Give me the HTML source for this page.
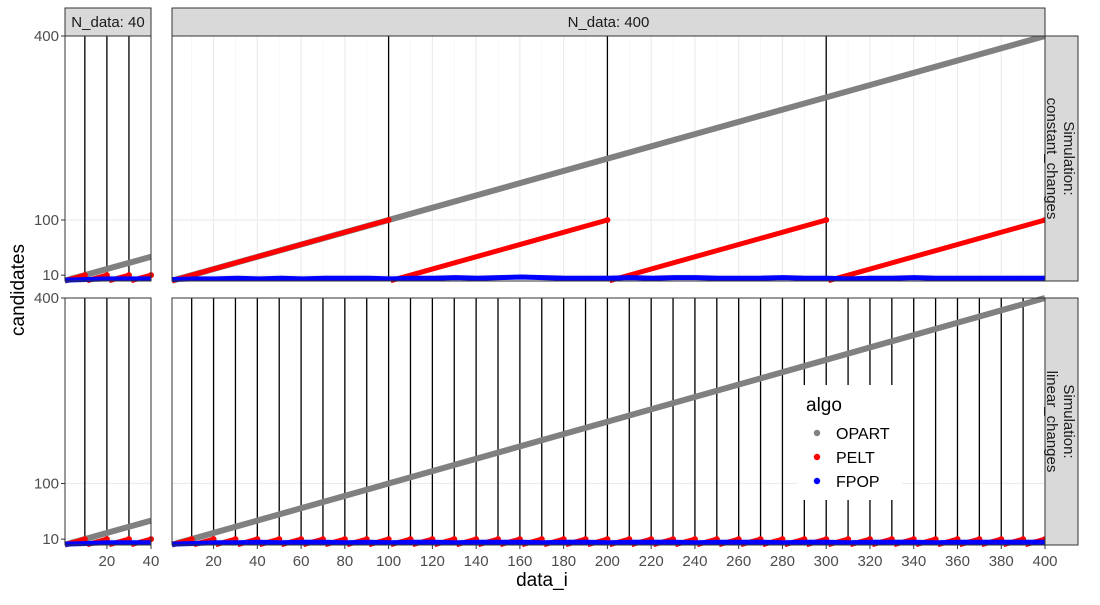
<!DOCTYPE html>
<html><head><meta charset="utf-8"><style>
body{margin:0;background:#fff;font-family:"Liberation Sans",sans-serif}
svg text{font-family:"Liberation Sans",sans-serif}
</style></head><body>
<svg id="c" width="1100" height="600" xmlns="http://www.w3.org/2000/svg"></svg>
<script>
const yTicks=[10,100,400];
const xTicksSmall=[20,40];
const xTicksBig=[20,40,60,80,100,120,140,160,180,200,220,240,260,280,300,320,340,360,380,400];
const nData=[40,400];
const simNames=["constant_changes","linear_changes"];
const cpConstSmall=[10,20,30];
const cpConstBig=[100,200,300];
const cpLinSmall=[10,20,30];
const cpLinBig=[10,20,30,40,50,60,70,80,90,100,110,120,130,140,150,160,170,180,190,200,210,220,230,240,250,260,270,280,290,300,310,320,330,340,350,360,370,380,390];
const opartStart=[1,1];
const opartEnd=[40,400];
const peltPeakConst=[100,100,100,100];
const peltPeakConstSmall=[10,10,10,10];
const peltPeakLin=10;
const fpopConstBig=[3,4,4,5,4,5,4,5,5,5,4,5,5,6,5,6,7,6,5,5,5,6,5,6,6,5,5,5,6,5,5,4,5,5,6,5,5,5,5,5,5];
const fpopLinBig=[2,3,4,4,5,4,5,5,4,5,4,5,5,4,5,5,5,4,5,5,4,5,5,5,4,5,5,5,4,5,5,4,5,5,5,4,5,5,5,5,5];
const fpopSmall=[2,3,4,4,4];

const S=document.getElementById('c');
const NS='http://www.w3.org/2000/svg';
function el(t,a,p){const e=document.createElementNS(NS,t);for(const k in a)e.setAttribute(k,a[k]);(p||S).appendChild(e);return e;}

const cols=[{x0:65,x1:151,lo:1,hi:40,ticks:xTicksSmall},{x0:172,x1:1045,lo:1,hi:400,ticks:xTicksBig}];
const rows=[{y0:36,y1:281},{y0:298,y1:545}];
const yLo=0.5,yHi=400;

for(let r=0;r<2;r++){for(let c=0;c<2;c++){
  const C=cols[c],R=rows[r];
  const X=v=>C.x0+(v-C.lo)/(C.hi-C.lo)*(C.x1-C.x0);
  const Y=v=>R.y1-(v-yLo)/(yHi-yLo)*(R.y1-R.y0);
  const g=el('g',{});
  
  
  el('rect',{x:C.x0,y:R.y0,width:C.x1-C.x0,height:R.y1-R.y0,fill:'#fff'},g);
  for(let v=10;v<=C.hi;v+=10){el('line',{x1:X(v),x2:X(v),y1:R.y0,y2:R.y1,stroke:v%20?'#f4f4f4':'#ebebeb','stroke-width':v%20?0.6:1.1},g);}
  for(const v of [10,100,400]){el('line',{x1:C.x0,x2:C.x1,y1:Y(v),y2:Y(v),stroke:'#ebebeb','stroke-width':1.1},g);}
  const cps=r==0?(c==0?cpConstSmall:cpConstBig):(c==0?cpLinSmall:cpLinBig);
  for(const v of cps){const l=el('line',{x1:X(v),x2:X(v),y1:R.y0,y2:R.y1,stroke:'#000','stroke-width':1.3},g);}
  const op=el('line',{x1:X(opartStart[c]),y1:Y(opartStart[c]),x2:X(opartEnd[c]),y2:Y(opartEnd[c]),stroke:'#808080','stroke-width':6},g);
  
  const bounds=[0].concat(cps,[C.hi]);
  for(let i=0;i<bounds.length-1;i++){
    const a=bounds[i]+1,b=bounds[i+1];
    let peak=r==0?(c==0?peltPeakConstSmall[i]:peltPeakConst[i]):peltPeakLin;
    const pl=el('line',{x1:X(a),y1:Y(1),x2:X(b),y2:Y(peak),stroke:'#ff0000','stroke-width':5},g);
    
    el('circle',{cx:X(b),cy:Y(peak),r:3,fill:'#ff0000'},g);
  }
  const fp=c==0?fpopSmall:(r==0?fpopConstBig:fpopLinBig);
  const step=(C.hi-1)/(fp.length-1);
  const pts=fp.map((v,i)=>X(1+i*step).toFixed(1)+','+Y(v).toFixed(1)).join(' ');
  const fl=el('polyline',{points:pts,fill:'none',stroke:'#0000ff','stroke-width':5},g);
  
  el('rect',{x:C.x0,y:R.y0,width:C.x1-C.x0,height:R.y1-R.y0,fill:'none',stroke:'#333','stroke-width':1},g);
  if(c==0){for(const v of yTicks){el('line',{x1:C.x0-4,x2:C.x0,y1:Y(v),y2:Y(v),stroke:'#333'});
    const t=el('text',{x:C.x0-6,y:Y(v)+5,'text-anchor':'end','font-size':15,fill:'#4d4d4d'});t.textContent=v;
    }}
  if(r==1){for(const v of C.ticks){el('line',{x1:X(v),x2:X(v),y1:R.y1,y2:R.y1+4,stroke:'#333'});
    const t=el('text',{x:X(v),y:R.y1+21,'text-anchor':'middle','font-size':15,fill:'#4d4d4d'});t.textContent=v;
    }}
  if(r==0){el('rect',{x:C.x0,y:8,width:C.x1-C.x0,height:28,fill:'#d9d9d9',stroke:'#333'});
    const t=el('text',{x:(C.x0+C.x1)/2,y:27,'text-anchor':'middle','font-size':15,fill:'#1a1a1a'});t.textContent='N_data: '+nData[c];
    }
}
  const R=rows[r];
  el('rect',{x:1045,y:R.y0,width:33,height:R.y1-R.y0,fill:'#d9d9d9',stroke:'#333'});
  const cy=(R.y0+R.y1)/2;
  const t=el('text',{transform:`translate(1061,${cy}) rotate(90)`,'text-anchor':'middle','font-size':15,fill:'#1a1a1a'});
  
  el('tspan',{x:0,dy:-3},t).textContent='Simulation:';
  el('tspan',{x:0,dy:17},t).textContent=simNames[r];
}
let t=el('text',{x:542,y:586,'text-anchor':'middle','font-size':19,fill:'#000'});t.textContent='data_i';

t=el('text',{transform:'translate(24,290) rotate(-90)','text-anchor':'middle','font-size':19,fill:'#000'});t.textContent='candidates';

const lg=el('g',{});
el('rect',{x:797,y:385,width:105,height:115,fill:'#fff'},lg);
t=el('text',{x:806,y:411,'font-size':19,fill:'#000'},lg);t.textContent='algo';
const legNames=['OPART','PELT','FPOP'],legCols=['#808080','#ff0000','#0000ff'];
legNames.forEach((n,i)=>{const y=433+i*24;
  const e=el('g',{},lg);
  el('circle',{cx:817,cy:y,r:3.2,fill:legCols[i]},e);
  const tx=el('text',{x:836,y:y+6,'font-size':16,fill:'#000'},e);tx.textContent=n;});
</script>
</body></html>
